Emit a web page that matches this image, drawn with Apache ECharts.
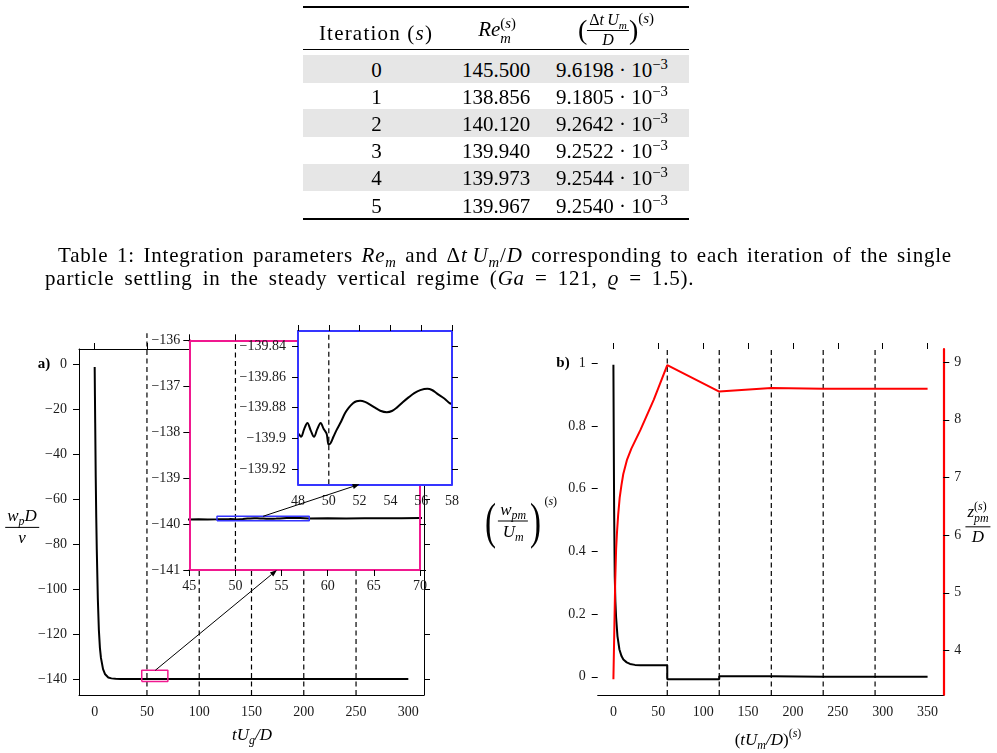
<!DOCTYPE html>
<html>
<head>
<meta charset="utf-8">
<title>settling</title>
<script src="https://cdn.jsdelivr.net/npm/echarts@6.0.0/dist/echarts.min.js"></script>
<style>
  body { margin: 0; background: #fff; }
  #page { position: relative; width: 997px; height: 753px; overflow: hidden; font-family: "Liberation Serif", serif; color: #000; }
  #container { position: absolute; left: 0; top: 0; width: 997px; height: 753px; }
  .abs { position: absolute; white-space: nowrap; transform: translate(-50%, -50%); }
  .rule { position: absolute; left: 303px; width: 386px; background: #000; }
  .band { position: absolute; left: 303px; width: 386px; background: #e6e6e6; }
  .cell { position: absolute; font-size: 21px; white-space: nowrap; transform: translate(-50%, -50%); }
  .frac { display: inline-flex; flex-direction: column; align-items: center; vertical-align: middle; }
  .frac > span:first-child { border-bottom: 1px solid #000; padding: 0 2px 1px 2px; line-height: 1.1; }
  .frac > span:last-child { line-height: 1.15; }
  .ss { display: inline-flex; flex-direction: column; vertical-align: middle; font-size: 70%; line-height: 1; }
  .m { font-size: 17px; font-style: italic; }
  .up { font-style: normal; }
  .par { display: inline-block; font-style: normal; font-size: 46px; vertical-align: middle; transform: scale(0.72, 1.12); }
  sub, sup { font-size: 70%; line-height: 0; }
  .cap { position: absolute; font-size: 21px; line-height: 24px; letter-spacing: 0.8px; }
</style>
</head>
<body>
<div id="page">
  <div id="container"></div>
  <div id="table"></div>
  <div class="cap" style="left:58px;top:243px;width:894px;text-align:justify;text-align-last:justify;white-space:normal;">Table 1: Integration parameters <i>Re<sub>m</sub></i> and Δ<i>t</i>&#8201;<i>U<sub>m</sub></i>/<i>D</i> corresponding to each iteration of the single</div>
  <div class="cap" style="left:45px;top:266px;white-space:nowrap;word-spacing:4px;">particle settling in the steady vertical regime (<i>Ga</i> = 121, <i>ϱ</i> = 1.5).</div>

  <div class="abs" style="left:44px;top:363px;font-size:15px;font-weight:bold;">a)</div>
  <div class="abs" style="left:563px;top:362px;font-size:15px;font-weight:bold;">b)</div>

  <div class="abs m" style="left:22px;top:527px;"><span class="frac"><span>w<sub>p</sub>D</span><span>ν</span></span></div>
  <div class="abs m" style="left:252px;top:735px;">tU<sub>g</sub>/D</div>

  <div class="abs m" style="left:520px;top:521px;"><span class="par">(</span><span class="frac"><span>w<sub>pm</sub></span><span>U<sub>m</sub></span></span><span class="par">)</span><span class="up" style="font-size:12px;position:relative;top:-20px;margin-left:1px;">(<i>s</i>)</span></div>
  <div class="abs m" style="left:978px;top:524px;"><span class="frac"><span>z<span class="ss" style="font-style:normal;"><span>(<i>s</i>)</span><i>pm</i></span></span><span>D</span></span></div>
  <div class="abs m" style="left:768px;top:740px;"><span class="up">(</span>tU<sub>m</sub>/D<span class="up">)</span><span class="up" style="font-size:12px;position:relative;top:-8px;">(<i>s</i>)</span></div>
</div>
<script>
// table 1
var iterNo = [0, 1, 2, 3, 4, 5];
var reM = ['145.500', '138.856', '140.120', '139.940', '139.973', '139.967'];
var dtM = ['9.6198', '9.1805', '9.2642', '9.2522', '9.2544', '9.2540'];

// panel a) w_p D / nu against t U_g / D
var tA = [0, 0.25, 0.5, 1, 1.5, 2, 3, 4, 5, 6, 8, 10, 13, 16, 20, 25, 30, 35, 40, 45, 46, 47,
  48, 48.19, 48.4, 48.61, 48.83, 49.04, 49.25, 49.47, 49.67, 49.86, 49.99, 50.12, 50.3, 50.51, 50.8,
  51.05, 51.3, 51.59, 51.8, 52.03, 52.35, 52.68, 53.0, 53.34, 53.77, 54.1, 54.42, 54.8, 55.18, 55.55,
  55.94, 56.4, 56.7, 57.01, 57.5, 58,
  60, 62, 64, 66, 68, 70, 80, 100, 150, 200, 250, 300];
var wA = [-1, -14, -26, -50, -68, -82, -104, -118, -126, -130.5, -135.5, -137.8, -139.2, -139.6, -139.8,
  -139.88, -139.9, -139.9, -139.9, -139.902, -139.895, -139.9,
  -139.897, -139.899, -139.894, -139.89, -139.895, -139.899, -139.894, -139.89, -139.894, -139.897,
  -139.904, -139.903, -139.899, -139.8945, -139.889, -139.8837, -139.88, -139.877, -139.8758, -139.8755,
  -139.8762, -139.878, -139.88, -139.882, -139.883, -139.8822, -139.88, -139.8765, -139.8733, -139.8705,
  -139.8686, -139.8677, -139.8685, -139.8707, -139.874, -139.8777,
  -139.872, -139.878, -139.873, -139.876, -139.872, -139.87, -139.88, -139.9, -139.9, -139.9, -139.9, -139.9];
var iterA = [50, 100, 150, 200, 250];

// panel b) iterations
var tB = [0, 0.4, 0.8, 1.5, 2.2, 3, 4.5, 6.7, 9, 11.1, 14.8, 18.5, 24, 30, 40, 60, 60, 117.9, 117.9, 175.9, 175.9, 233.7, 291.5, 350];
var wB = [0.995, 0.75, 0.53, 0.32, 0.24, 0.19, 0.13, 0.087, 0.066, 0.055, 0.046, 0.041, 0.038, 0.037, 0.037, 0.037, -0.008, -0.008, 0.002, 0.002, 0.0005, 0, 0, 0];
var tZ = [0, 1, 2, 3, 4, 5.3, 7, 9, 11, 15, 20, 30, 45, 60, 117.9, 175.9, 233.7, 291.5, 350];
var zB = [3.5, 4.35, 5.2, 5.75, 6.05, 6.35, 6.65, 6.87, 7.06, 7.3, 7.5, 7.82, 8.35, 8.95, 8.49, 8.55, 8.54, 8.54, 8.54];
var iterB = [60, 117.9, 175.9, 233.7, 291.5];

// tick values
var xTicksA = [0, 50, 100, 150, 200, 250, 300];
var yTicksA = [-140, -120, -100, -80, -60, -40, -20, 0];
var xTicksP = [45, 50, 55, 60, 65, 70];
var yTicksP = [-141, -140, -139, -138, -137, -136];
var xTicksQ = [48, 50, 52, 54, 56, 58];
var yTicksQ = [-139.92, -139.9, -139.88, -139.86, -139.84];
var xTicksB = [0, 50, 100, 150, 200, 250, 300, 350];
var yTicksB = [0, 0.2, 0.4, 0.6, 0.8, 1];
var zTicksB = [4, 5, 6, 7, 8, 9];

// ---- table
(function() {
  var box = document.getElementById('table');
  var html = '';
  var top0 = 55, rh = 27.2;
  for (var i = 0; i < iterNo.length; i++) {
    if (i % 2 === 0) html += '<div class="band" style="top:' + (top0 + rh * i) + 'px;height:' + (rh + 0.4) + 'px"></div>';
    var cy = top0 + rh * i + rh / 2 + 1;
    html += '<div class="cell" style="left:376.5px;top:' + cy + 'px">' + iterNo[i] + '</div>';
    html += '<div class="cell" style="left:496px;top:' + cy + 'px">' + reM[i] + '</div>';
    html += '<div class="cell" style="left:612px;top:' + cy + 'px">' + dtM[i] + ' · 10<sup>−3</sup></div>';
  }
  html += '<div class="rule" style="top:6px;height:2px"></div>';
  html += '<div class="rule" style="top:49px;height:1.3px"></div>';
  html += '<div class="rule" style="top:218px;height:2px"></div>';
  html += '<div class="cell" style="left:376px;top:33px;letter-spacing:1.2px">Iteration (<i>s</i>)</div>';
  html += '<div class="cell" style="left:497px;top:31px"><i>Re</i><span class="ss"><span>(<i>s</i>)</span><i>m</i></span></div>';
  html += '<div class="cell" style="left:616px;top:30px"><span style="font-size:28px;vertical-align:middle">(</span>' +
    '<span class="frac" style="font-size:16px"><span>Δ<i>t</i>&#8201;<i>U<sub>m</sub></i></span><span><i>D</i></span></span>' +
    '<span style="font-size:28px;vertical-align:middle">)</span><span style="font-size:15px;position:relative;top:-12px">(<i>s</i>)</span></div>';
  box.innerHTML = html;
})();

var ff = 'Liberation Serif';
var pink = '#f0188f';
var blue = '#3535ff';

function fmt(v) {
  return String(v).replace('-', '\u2212');
}

function axis(grid, pos, min, max, ticks, o) {
  o = o || {};
  return {
    type: 'value', gridIndex: grid, position: pos, min: min, max: max, z: o.z || 1,
    splitLine: { show: false },
    axisLine: { show: o.line !== false, onZero: false, lineStyle: { color: o.color || '#000', width: o.lw || 1 } },
    axisTick: { show: o.tick !== false, inside: false, length: 6, customValues: ticks, lineStyle: { color: '#000', width: 1 } },
    axisLabel: { show: !!o.label, customValues: ticks, margin: o.margin || 10, fontFamily: ff, fontSize: 14, color: '#1a1a1a', formatter: fmt }
  };
}

function pairs(xs, ys) {
  return xs.map(function(x, i) { return [x, ys[i]]; });
}

function curve(xi, yi, xs, ys, color, w, z, smooth) {
  return {
    type: 'line', xAxisIndex: xi, yAxisIndex: yi, data: pairs(xs, ys), symbol: 'none',
    smooth: smooth || false, lineStyle: { color: color, width: w }, z: z, silent: true
  };
}

function dashed(xi, yi, x, y0, y1, z) {
  return {
    type: 'line', xAxisIndex: xi, yAxisIndex: yi, data: [[x, y0], [x, y1]], symbol: 'none', clip: false,
    lineStyle: { color: '#000', width: 1.2, type: [5, 3.5] }, z: z, silent: true
  };
}

function box(xi, yi, x0, x1, y0, y1, color, z) {
  return {
    type: 'line', xAxisIndex: xi, yAxisIndex: yi, symbol: 'none', clip: false,
    data: [[x0, y0], [x1, y0], [x1, y1], [x0, y1], [x0, y0]],
    lineStyle: { color: color, width: 1.5 }, z: z, silent: true
  };
}

// limits of the zoom windows
var pX = [45, 70], pY = [-141, -136];
var qX = [48, 58], qY = [-139.93, -139.83];

var dom = document.getElementById('container');
var myChart = echarts.init(dom, null, { renderer: 'canvas' });

var series = [];
series.push(curve(0, 0, tA, wA, '#000', 2, 3));
iterA.forEach(function(x) { series.push(dashed(0, 0, x, -147, x === 50 ? 14 : 7, 2)); });
series.push(box(0, 0, pX[0], pX[1], pY[0], pY[1], pink, 3));

series.push(curve(2, 2, tA, wA, '#000', 2, 11));
series.push(dashed(2, 2, 50, pY[0], pY[1], 11));
series.push(box(2, 2, qX[0], qX[1], qY[0], qY[1], blue, 12));

series.push(curve(4, 4, tA, wA, '#000', 2, 21, 0.35));
series.push(dashed(4, 4, 50, qY[0], qY[1], 21));

iterB.forEach(function(x) { series.push(dashed(6, 6, x, -0.058, 1.045, 2)); });
series.push(curve(6, 6, tB, wB, '#000', 2, 3));
series.push(curve(6, 7, tZ, zB, '#ff0000', 2, 4));

var option = {
  animation: false,
  grid: [
    { left: 79, top: 349, width: 345, height: 346, containLabel: false, outerBoundsMode: 'none' },
    { left: 189.3, top: 340.3, width: 230.7, height: 229.7, containLabel: false, outerBoundsMode: 'none', show: true, backgroundColor: '#fff', borderWidth: 0, z: 10 },
    { left: 298, top: 331, width: 154, height: 153.3, containLabel: false, outerBoundsMode: 'none', show: true, backgroundColor: '#fff', borderWidth: 0, z: 20 },
    { left: 597.7, top: 349, width: 345.6, height: 346, containLabel: false, outerBoundsMode: 'none' }
  ],
  xAxis: [
    axis(0, 'bottom', -15, 315, xTicksA, { label: true, tick: false }),
    axis(0, 'top', -15, 315, xTicksA, {}),
    axis(1, 'bottom', pX[0], pX[1], xTicksP, { label: true, tick: true, color: pink, lw: 2, z: 12, margin: 9 }),
    axis(1, 'top', pX[0], pX[1], [45, 50], { color: pink, lw: 2, z: 12 }),
    axis(2, 'bottom', qX[0], qX[1], xTicksQ, { label: true, tick: false, color: blue, lw: 2, z: 22, margin: 10 }),
    axis(2, 'top', qX[0], qX[1], xTicksQ, { color: blue, lw: 2, z: 22 }),
    axis(3, 'bottom', -17.5, 367.5, xTicksB, { label: true, tick: false }),
    axis(3, 'top', -17.5, 367.5, xTicksB, { line: false })
  ],
  yAxis: [
    axis(0, 'left', -147, 7, yTicksA, { label: true, margin: 12 }),
    axis(0, 'right', -147, 7, yTicksA, {}),
    axis(1, 'left', pY[0], pY[1], yTicksP, { label: true, color: pink, lw: 2, z: 12, margin: 9 }),
    axis(1, 'right', pY[0], pY[1], yTicksP, { color: pink, lw: 2, z: 12 }),
    axis(2, 'left', qY[0], qY[1], yTicksQ, { label: true, color: blue, lw: 2, z: 22, margin: 12 }),
    axis(2, 'right', qY[0], qY[1], yTicksQ, { color: blue, lw: 2, z: 22 }),
    axis(3, 'left', -0.058, 1.045, yTicksB, { label: true, line: false, margin: 12 }),
    axis(3, 'right', 3.227, 9.228, zTicksB, { label: true, color: '#ff0000', lw: 2.2, margin: 11 })
  ],
  series: series
};
myChart.setOption(option, true);

// zoom arrows, placed with the axes' own scales
function arrow(a, b) {
  var dx = b[0] - a[0], dy = b[1] - a[1];
  var L = Math.sqrt(dx * dx + dy * dy), ux = dx / L, uy = dy / L;
  var h = 7, w = 2.6;
  var bx = b[0] - ux * h, by = b[1] - uy * h;
  return [
    { type: 'line', z: 30, silent: true, shape: { x1: a[0], y1: a[1], x2: bx, y2: by }, style: { stroke: '#000', lineWidth: 1 } },
    { type: 'polygon', z: 30, silent: true, shape: { points: [[b[0], b[1]], [bx - uy * w, by + ux * w], [bx + uy * w, by - ux * w]] }, style: { fill: '#000' } }
  ];
}
var a0 = myChart.convertToPixel({ xAxisIndex: 0, yAxisIndex: 0 }, [58, pY[1]]);
var a1 = myChart.convertToPixel({ xAxisIndex: 2, yAxisIndex: 2 }, [54.5, pY[0]]);
var b0 = myChart.convertToPixel({ xAxisIndex: 2, yAxisIndex: 2 }, [53, qY[1]]);
var b1 = myChart.convertToPixel({ xAxisIndex: 4, yAxisIndex: 4 }, [52, qY[0]]);
myChart.setOption({ graphic: arrow(a0, a1).concat(arrow(b0, b1)) });
</script>
</body>
</html>
